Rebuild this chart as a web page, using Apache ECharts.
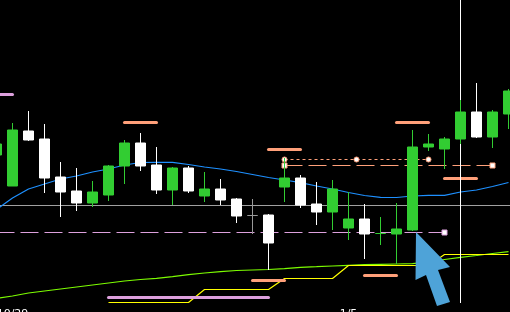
<!DOCTYPE html>
<html>
<head>
<meta charset="utf-8">
<script src="https://cdn.jsdelivr.net/npm/echarts@6/dist/echarts.min.js"></script>
<style>html,body{margin:0;padding:0;background:#000;}#c{width:510px;height:312px;}</style>
</head>
<body>
<div id="c"></div>
<script>
// ---- data (price units; candles indexed 0..32) ----
const openV  = [148,117,172,164,126,112,100,108,137,160,138,113,135,107,114,104,87.5,88,116,125,99,91,75,84,69.5,69,73,156,154,164,191,166,189];
const closeV = [159,173,163,125,111,100,111,137,160,137,113,135,112,114,103,87,87.5,60,125,98,91,114,84,69,69.5,74,156,159,164,191,166,191,212];
const lowV   = [148,117,162,110,86,92,96,102,119,132,109,98,110,101,98,80,69,33,101,95,78,73,63,44,58,39,72,152,134,159,165,155,174];
const highV  = [159,180,192,179,141,135,122,138,163,170,156,136,137,131,124,105,104,89,145,128,121,123,111,99,86,100,173,169,166,203,220,193,214];
const maBlue = [93.5,105,114,119,124,127,131,134,138,140.5,140.7,140.7,138.5,136,134,131.5,128.5,125.5,123,120.3,117,114,110.5,107.5,105.7,105.5,107,107.7,107.7,111,113,116.5,120.5];
const lineGreen = [4.5,7,10,12,14,16,18,20,22,23.5,24.7,26.3,28.3,30,31.3,32.5,33,33.5,34.3,35.7,36.3,37,37.7,38.3,38.7,39,39.3,41,43.5,45.7,47.5,49.5,51.3];
const lineYellow = [null,null,null,null,null,null,null,0.5,0.5,0.5,0.5,0.5,0.5,13.5,13.5,13.5,13.5,13.5,24.5,24.5,24.5,24.5,37.5,37.5,37.5,37.5,37.5,37.5,48.5,48.5,48.5,48.5,48.5];
const grayLevel = 97.5;
const plumDashed = [0, 28, 70.5];        // from idx, to idx, level
const orangeDashed = [18, 31, 137.5];
const dottedPoints = [18, 22.5, 27];
const dottedLevel = 143.5;
const orangeBars = [[8,10,180.5],[17,19,153.5],[25,27,180.5],[28,30,124.5],[16,18,22.5],[23,25,27.5]];
const plumBars = [[-1,1,208.5],[7,17,5.5]];
const cursorIndex = 29;
const dojiGray = [16];
const tickLabels = {1: '10/29', 22: '1/5'};
const categories = openV.map((_, i) => String(i));

const chart = echarts.init(document.getElementById('c'), null, {renderer: 'canvas'});

const candleData = openV.map((o, i) => {
  const item = {value: [o, closeV[i], lowV[i], highV[i]]};
  if (dojiGray.indexOf(i) >= 0) {
    item.itemStyle = {color: '#999', color0: '#999', borderColor: '#999', borderColor0: '#999'};
  }
  return item;
});

function seg(data, color, width, extra) {
  return Object.assign({
    type: 'line', xAxisIndex: 1, yAxisIndex: 0, data: data, symbol: 'none',
    lineStyle: {color: color, width: width}, z: 1, silent: true, animation: false
  }, extra || {});
}

const series = [];
series.push(seg([[-1, grayLevel], [33, grayLevel]], '#a0a0a0', 1));
series.push(seg([
  {value: [plumDashed[0], plumDashed[2]], symbol: 'none'},
  {value: [plumDashed[1], plumDashed[2]], symbol: 'rect', symbolSize: 5}
], '#dda0dd', 1, {lineStyle: {color: '#dda0dd', width: 1, type: [18, 6]}, itemStyle: {color: '#ffffff', borderColor: '#dda0dd', borderWidth: 1}, showSymbol: true}));
series.push({type: 'line', xAxisIndex: 0, yAxisIndex: 0, data: maBlue, symbol: 'none', lineStyle: {color: '#1e90ff', width: 1.2}, z: 1, silent: true});
series.push({type: 'line', xAxisIndex: 0, yAxisIndex: 0, data: lineGreen, symbol: 'none', lineStyle: {color: '#7cfc00', width: 1.2}, z: 1, silent: true});
series.push({type: 'line', xAxisIndex: 0, yAxisIndex: 0, data: lineYellow, symbol: 'none', connectNulls: false, lineStyle: {color: '#ffff00', width: 1.2}, z: 1, silent: true});
series.push(seg([
  {value: [orangeDashed[0], orangeDashed[2]], symbol: 'rect', symbolSize: 5},
  {value: [orangeDashed[1], orangeDashed[2]], symbol: 'rect', symbolSize: 5}
], '#ffa07a', 1, {lineStyle: {color: '#ffa07a', width: 1, type: [18, 6]}, itemStyle: {color: '#ffffff', borderColor: '#ffa07a', borderWidth: 1}, showSymbol: true}));
series.push(seg(dottedPoints.map(x => ({value: [x, dottedLevel], symbol: 'circle', symbolSize: 5})),
  '#ffa07a', 1, {lineStyle: {color: '#ffa07a', width: 1, type: [3, 3]}, itemStyle: {color: '#ffffff', borderColor: '#ffa07a', borderWidth: 1}, showSymbol: true}));
orangeBars.forEach(b => series.push(seg([[b[0], b[2]], [b[1], b[2]]], '#ffa07a', 3, {lineStyle: {color: '#ffa07a', width: 3, cap: 'round'}})));
plumBars.forEach(b => series.push(seg([[b[0], b[2]], [b[1], b[2]]], '#dda0dd', 3, {lineStyle: {color: '#dda0dd', width: 3, cap: 'round'}})));
series.push(seg([[cursorIndex, 0], [cursorIndex, 303]], '#ffffff', 1));
series.push({
  type: 'candlestick', xAxisIndex: 0, yAxisIndex: 0, data: candleData, barWidth: 10, z: 3,
  itemStyle: {color: '#32cd32', color0: '#ffffff', borderColor: '#32cd32', borderColor0: '#ffffff', borderWidth: 1}
});

chart.setOption({
  backgroundColor: '#000000',
  animation: false,
  grid: {left: -11.5, right: -6.5, top: 0, bottom: 9, containLabel: false, outerBoundsMode: 'none'},
  xAxis: [
    {type: 'category', data: categories, boundaryGap: true,
     axisLine: {show: false}, axisTick: {show: false}, splitLine: {show: false},
     axisLabel: {interval: (i) => tickLabels[i] !== undefined, formatter: (v, i) => tickLabels[i] || '',
       color: '#ffffff', fontSize: 11, margin: 6, fontFamily: 'DejaVu Sans'}},
    {type: 'value', min: -0.5, max: 32.5, show: false}
  ],
  yAxis: {type: 'value', min: 0, max: 303, show: false, splitLine: {show: false}},
  series: series
});

// arrow annotation anchored at candle 26's low
const p = chart.convertToPixel({xAxisIndex: 1, yAxisIndex: 0}, [26, lowV[26]]);
const tip = [p[0] + 3.5, p[1] + 1];
const rel = [[0,0],[-0.5,48],[10,43],[21,74],[34,70],[22,38],[34,35]];
chart.setOption({
  graphic: [{type: 'polygon', z: 100, shape: {points: rel.map(r => [tip[0] + r[0], tip[1] + r[1]])}, style: {fill: '#4ea3d8'}}]
});
</script>
</body>
</html>
